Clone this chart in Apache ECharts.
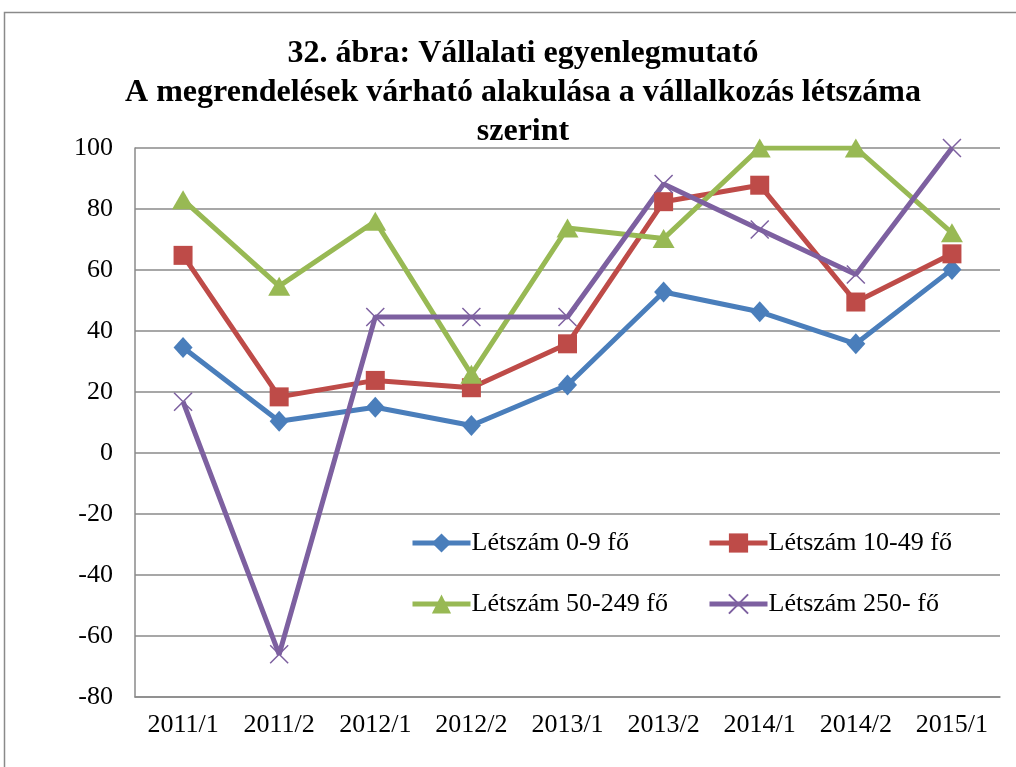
<!DOCTYPE html>
<html>
<head>
<meta charset="utf-8">
<script src="https://cdn.jsdelivr.net/npm/echarts@6/dist/echarts.min.js"></script>
<style>
html,body{margin:0;padding:0;background:#fff;}
#c{width:1016px;height:767px;}
</style>
</head>
<body>
<div id="c"></div>
<script>
const categories = ['2011/1','2011/2','2012/1','2012/2','2013/1','2013/2','2014/1','2014/2','2015/1'];
const seriesNames = ['Létszám 0-9 fő','Létszám 10-49 fő','Létszám 50-249 fő','Létszám 250- fő'];
const s0_9 = [34.6, 10.4, 15.0, 9.0, 22.3, 52.8, 46.3, 35.8, 60.2];
const s10_49 = [64.8, 18.4, 23.8, 21.4, 35.8, 82.4, 87.8, 49.5, 65.3];
const s50_249 = [83.0, 54.7, 76.0, 25.8, 73.8, 70.3, 100, 100, 72.2];
const s250 = [16.8, -66.0, 44.6, 44.6, 44.6, 88.2, 73.3, 58.5, 100];
const yTicks = {min: -80, max: 100, interval: 20};

const font = '"Liberation Serif", "Times New Roman", serif';
const colors = ['#4A7EBB', '#BE4B48', '#98B954', '#7D60A0'];
const crossPath = 'path://M0,0L10,10M10,0L0,10';

const legendCommon = {
  orient: 'vertical',
  padding: 0,
  itemWidth: 58, itemHeight: 24, itemGap: 35,
  top: 530,
  lineStyle: {width: 5},
  textStyle: {fontFamily: font, fontSize: 26, color: '#000', padding: [0, 0, 0, -4]}
};

const chart = echarts.init(document.getElementById('c'), null, {renderer: 'canvas'});
chart.setOption({
  animation: false,
  backgroundColor: '#fff',
  graphic: [{
    type: 'rect', shape: {x: 4.5, y: 12.5, width: 1100, height: 900},
    style: {fill: 'none', stroke: '#8a8a8a', lineWidth: 1.5}, silent: true, z: -1
  }],
  title: {
    text: '32. ábra: Vállalati egyenlegmutató\nA megrendelések várható alakulása a vállalkozás létszáma\nszerint',
    left: 518, textAlign: 'center', top: 29,
    textStyle: {fontFamily: font, fontWeight: 'bold', fontSize: 32, lineHeight: 39, color: '#000'}
  },
  grid: {left: 135, right: 16, top: 148, bottom: 70, containLabel: false},
  legend: [
    Object.assign({}, legendCommon, {left: 410, data: [seriesNames[0], seriesNames[2]]}),
    Object.assign({}, legendCommon, {left: 707, data: [seriesNames[1], seriesNames[3]]})
  ],
  xAxis: {
    type: 'category', data: categories, boundaryGap: true,
    axisLine: {onZero: false, lineStyle: {color: '#8a8a8a', width: 1.5}},
    axisTick: {show: false},
    axisLabel: {fontFamily: font, fontSize: 26, color: '#000', margin: 15}
  },
  yAxis: {
    type: 'value', min: yTicks.min, max: yTicks.max, interval: yTicks.interval,
    axisLine: {show: true, lineStyle: {color: '#8a8a8a', width: 1.5}},
    axisTick: {show: false},
    splitLine: {lineStyle: {color: '#8a8a8a', width: 1.5}},
    axisLabel: {fontFamily: font, fontSize: 26, color: '#000', margin: 22}
  },
  series: [
    {name: seriesNames[0], type: 'line', data: s0_9, symbol: 'diamond', symbolSize: [19, 21],
     lineStyle: {width: 5, color: colors[0]}, itemStyle: {color: colors[0]}},
    {name: seriesNames[1], type: 'line', data: s10_49, symbol: 'rect', symbolSize: 19,
     lineStyle: {width: 5, color: colors[1]}, itemStyle: {color: colors[1]}},
    {name: seriesNames[2], type: 'line', data: s50_249, symbol: 'triangle', symbolSize: [22, 19],
     lineStyle: {width: 5, color: colors[2]}, itemStyle: {color: colors[2]}},
    {name: seriesNames[3], type: 'line', data: s250, symbol: crossPath, symbolSize: 18,
     lineStyle: {width: 5, color: colors[3]},
     itemStyle: {color: colors[3], borderColor: colors[3], borderWidth: 1.5}}
  ]
});
</script>
</body>
</html>
